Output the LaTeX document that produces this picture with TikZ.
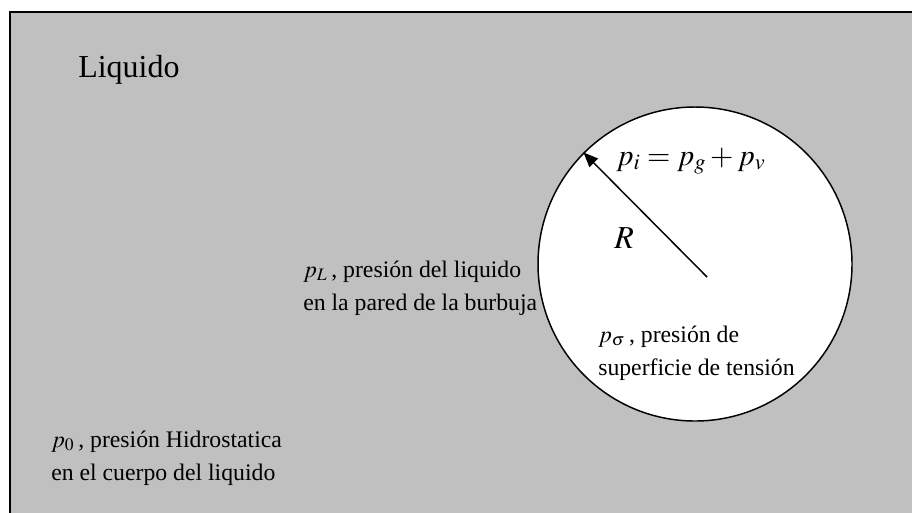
\documentclass[tikz,border=0pt]{standalone}
\usepackage{mathptmx}
\usepackage{fontspec}
\setmainfont{Liberation Serif}
\usetikzlibrary{arrows.meta,positioning}
\definecolor{liquidgray}{RGB}{192,192,192}

\begin{document}
\begin{tikzpicture}[
    x=0.75pt, y=-0.75pt,
    tank/.style={fill=liquidgray, draw=black, line width=1.5pt},
    bubble/.style={circle, fill=white, draw=black, line width=1.1pt, minimum size=314*0.75pt, inner sep=0pt},
    note/.style={anchor=base west, inner sep=0pt, align=left, font=\fontsize{17.8}{24.75}\selectfont},
    title/.style={anchor=base west, inner sep=0pt, font=\fontsize{24}{28}\selectfont},
    arrow/.style={-{Triangle[length=11pt,width=9pt]}, line width=1.1pt},
]
\useasboundingbox (0,0) rectangle (912,512);
\clip (0,0) rectangle (912,512);
\fill[white] (0,0) rectangle (912,512);
\draw[tank] (10,12) rectangle (930,530);
% bubble and its radius
\node[bubble] (bubble) at (695,264) {};
\coordinate (tail) at (707,277);
\draw[arrow] (tail) -- (bubble.135);
\node[title] (liquido) at (78,77) {Liquido};
\node[title, font=\fontsize{22.5}{27}\selectfont] (pin) at (616,165) {$p_i = p_g + p_v$};
\node[title] (radius) at (614,248) {$R$};
% pressures (base = last line)
\node[note] (pwall) at (303,310) {$p_L$\,, presión del liquido\\en la pared de la burbuja};
\node[note] (psurf) at (598,375) {$p_\sigma$\,, presión de\\superficie de tensión};
\node[note] (pbody) at (51,480) {$p_0$\,, presión Hidrostatica\\en el cuerpo del liquido};
\end{tikzpicture}
\end{document}
